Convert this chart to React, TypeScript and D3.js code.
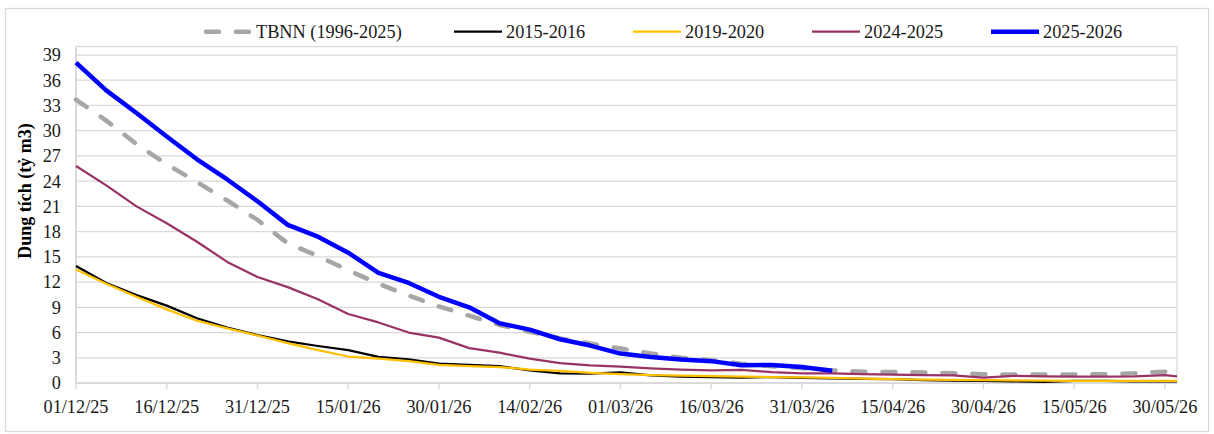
import React from 'react';
import * as d3 from 'd3';

// sample dates (every 5 days, last point on 01/06)
const sampleDates = [
  '2025-12-01', '2025-12-06', '2025-12-11', '2025-12-16', '2025-12-21', '2025-12-26', '2025-12-31',
  '2026-01-05', '2026-01-10', '2026-01-15', '2026-01-20', '2026-01-25', '2026-01-30',
  '2026-02-04', '2026-02-09', '2026-02-14', '2026-02-19', '2026-02-24',
  '2026-03-01', '2026-03-06', '2026-03-11', '2026-03-16', '2026-03-21', '2026-03-26', '2026-03-31',
  '2026-04-05', '2026-04-10', '2026-04-15', '2026-04-20', '2026-04-25', '2026-04-30',
  '2026-05-05', '2026-05-10', '2026-05-15', '2026-05-20', '2026-05-25', '2026-05-30', '2026-06-01',
];

const tbnn = [33.7, 31.2, 28.4, 26.0, 23.9, 21.7, 19.4, 16.6, 15.1, 13.4, 11.8, 10.4, 9.1, 8.0, 6.9, 6.1,
  5.3, 4.7, 4.1, 3.5, 3.0, 2.7, 2.3, 2.0, 1.75, 1.5, 1.35, 1.3, 1.25, 1.15, 1.05, 1.0, 1.0, 1.0, 1.05, 1.15, 1.35, 1.4];
const s2015 = [13.9, 11.9, 10.45, 9.2, 7.7, 6.6, 5.7, 4.95, 4.4, 3.9, 3.1, 2.8, 2.3, 2.15, 2.0, 1.5,
  1.15, 1.1, 1.25, 0.9, 0.75, 0.7, 0.65, 0.7, 0.6, 0.55, 0.5, 0.45, 0.35, 0.28, 0.24, 0.2, 0.12, 0.25, 0.25, 0.2, 0.2, 0.2];
const s2019 = [13.5, 11.8, 10.25, 8.75, 7.4, 6.5, 5.65, 4.75, 3.9, 3.15, 2.9, 2.6, 2.15, 2.0, 1.9, 1.6,
  1.45, 1.2, 1.07, 0.95, 0.88, 0.83, 0.77, 0.7, 0.67, 0.6, 0.52, 0.45, 0.4, 0.37, 0.33, 0.3, 0.28, 0.26, 0.25, 0.25, 0.25, 0.25];
const s2024 = [25.8, 23.5, 21.0, 19.0, 16.8, 14.4, 12.6, 11.4, 9.95, 8.2, 7.2, 6.0, 5.4, 4.15, 3.6, 2.9,
  2.35, 2.1, 1.95, 1.75, 1.6, 1.5, 1.55, 1.3, 1.15, 1.15, 1.05, 1.0, 0.95, 0.9, 0.65, 0.85, 0.8, 0.75, 0.75, 0.8, 0.95, 0.8];
const s2025 = [38.1, 34.8, 32.1, 29.3, 26.6, 24.2, 21.6, 18.8, 17.4, 15.5, 13.1, 11.9, 10.25, 9.0, 7.1, 6.35,
  5.2, 4.45, 3.5, 3.1, 2.8, 2.6, 2.1, 2.15, 1.9, 1.45];

const seriesNames = ['TBNN (1996-2025)', '2015-2016', '2019-2020', '2024-2025', '2025-2026'];
const seriesValues = [tbnn, s2015, s2019, s2024, s2025];
const seriesColors = ['#A6A6A6', '#000000', '#FFC000', '#993366', '#0000FF'];
const seriesWidths = [4.5, 2.25, 2.25, 2.25, 4.5];

const xTickDates = ['2025-12-01', '2025-12-16', '2025-12-31', '2026-01-15', '2026-01-30', '2026-02-14',
  '2026-03-01', '2026-03-16', '2026-03-31', '2026-04-15', '2026-04-30', '2026-05-15', '2026-05-30'];
const yTicks = [0, 3, 6, 9, 12, 15, 18, 21, 24, 27, 30, 33, 36, 39];

const W = 1214;
const H = 434;
const FONT = '"Liberation Serif", "Times New Roman", serif';

export default function App() {
  const parse = d3.timeParse('%Y-%m-%d');
  const fmt = d3.timeFormat('%d/%m/%y');
  const dates = sampleDates.map(d => parse(d) as Date);

  const plot = { left: 76, right: 1177, top: 46.6, bottom: 383 };

  const x = d3.scaleTime()
    .domain([parse('2025-12-01') as Date, parse('2026-06-01') as Date])
    .range([plot.left, plot.right]);
  const y = d3.scaleLinear().domain([0, 40]).range([plot.bottom, plot.top]);

  const line = d3.line<[Date, number]>()
    .x(d => x(d[0]))
    .y(d => y(d[1]));

  // legend item starts
  const legendX = [204, 454, 633, 812, 991];
  const legendY = 31.7;

  return (
    <svg width={W} height={H} style={{ position: 'absolute', left: 0, top: 0, display: 'block' }}
      fontFamily={FONT}>
      <rect x={0} y={0} width={W} height={H} fill="#fff" />
      <rect x={5.5} y={8.5} width={1203} height={423} fill="none" stroke="#D9D9D9" strokeWidth={1.25} />

      {/* grid */}
      {yTicks.filter(t => t > 0).map(t => (
        <line key={t} x1={plot.left} x2={plot.right} y1={y(t)} y2={y(t)} stroke="#D9D9D9" strokeWidth={1.25} />
      ))}
      <rect x={plot.left} y={plot.top} width={plot.right - plot.left} height={plot.bottom - plot.top}
        fill="none" stroke="#D9D9D9" strokeWidth={1.25} />
      <line x1={plot.left} x2={plot.left} y1={plot.top} y2={plot.bottom} stroke="#D9D9D9" strokeWidth={1.75} />
      <line x1={plot.left} x2={plot.right} y1={plot.bottom} y2={plot.bottom} stroke="#D9D9D9" strokeWidth={1.75} />

      {/* x ticks */}
      {xTickDates.map(s => {
        const d = parse(s) as Date;
        return (
          <g key={s} transform={`translate(${x(d)},0)`}>
            <line y1={plot.bottom} y2={plot.bottom + 6} stroke="#D9D9D9" strokeWidth={1.5} />
            <text y={413} textAnchor="middle" fontSize={18.3} fill="#1a1a1a">{fmt(d)}</text>
          </g>
        );
      })}

      {/* y ticks */}
      {yTicks.map(t => (
        <text key={t} x={61} y={y(t)} dy="0.35em" textAnchor="end" fontSize={18.3} fill="#1a1a1a">{t}</text>
      ))}

      <text transform="translate(31,191) rotate(-90)" textAnchor="middle" fontSize={18} fontWeight="bold"
        fill="#000">Dung tích (tỷ m3)</text>

      {/* series */}
      {seriesValues.map((vals, i) => {
        const pts = vals.map((v, j) => [dates[j], v] as [Date, number]);
        return (
          <path key={seriesNames[i]} d={line(pts) || ''} fill="none" stroke={seriesColors[i]}
            strokeWidth={seriesWidths[i]} strokeLinejoin="round"
            strokeLinecap={i === 0 ? 'round' : 'butt'}
            strokeDasharray={i === 0 ? '13,17' : undefined} />
        );
      })}

      {/* legend */}
      {seriesNames.map((name, i) => (
        <g key={name} transform={`translate(${legendX[i]},${legendY})`}>
          <line x1={i === 0 ? 2 : 0} x2={i === 0 ? 46 : 48} y1={0} y2={0} stroke={seriesColors[i]}
            strokeWidth={seriesWidths[i]} strokeLinecap={i === 0 ? 'round' : 'butt'}
            strokeDasharray={i === 0 ? '13,17' : undefined} />
          <text x={52} dy="0.35em" fontSize={18.3} fill="#1a1a1a">{name}</text>
        </g>
      ))}
    </svg>
  );
}
